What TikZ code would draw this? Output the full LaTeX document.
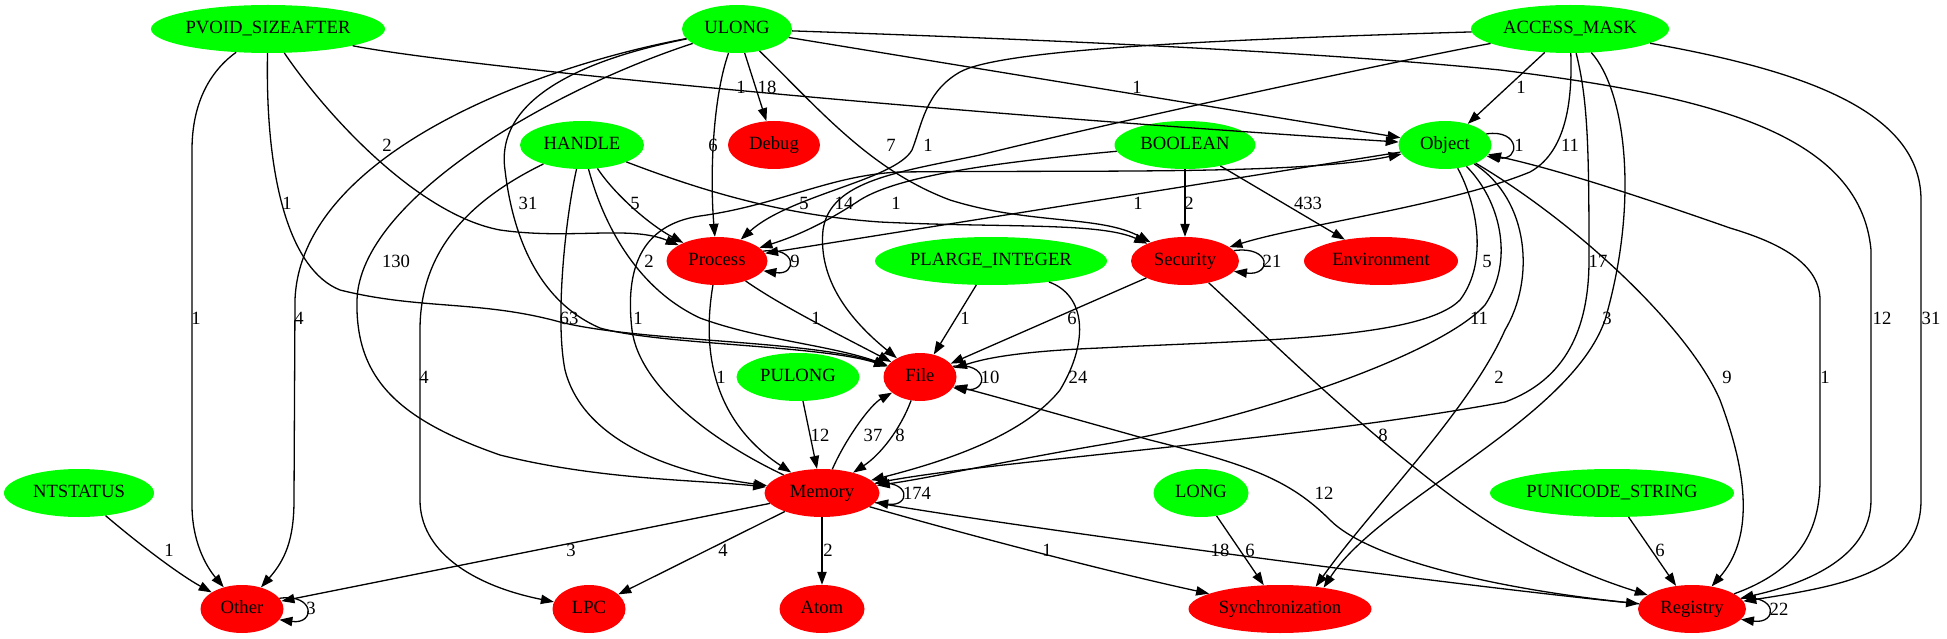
\documentclass[tikz,border=0pt]{standalone}
\usepackage{fontspec}
\setmainfont{Liberation Serif}
\usetikzlibrary{arrows.meta,shapes.geometric}
\definecolor{gvgreen}{RGB}{0,255,0}
\definecolor{gvred}{RGB}{255,0,0}
\newcommand\gvloop[3]{\draw[e] (#1.#2) .. controls +(#3,-5) and +(#3,5) .. (#1.-#2);}
\begin{document}
\begin{tikzpicture}[x=1pt,y=-1pt,
  txt/.style={font=\fontsize{18.67}{22}\selectfont},
  nd/.style={txt,ellipse,inner sep=0pt,minimum height=48pt,text height=12.5pt,text depth=4pt},
  gn/.style={nd,fill=gvgreen},
  rd/.style={nd,fill=gvred},
  e/.style={line width=1.3pt,-{Triangle[length=13pt,width=9.3pt]}},
  lab/.style={txt,inner sep=0pt}]
\useasboundingbox (0,0) rectangle (1947,639);
% nodes
\node[gn,minimum width=234pt] (pvoid) at (268,29) {PVOID\_SIZEAFTER};
\node[gn,minimum width=110pt] (ulong) at (737,29) {ULONG};
\node[gn,minimum width=198pt] (access) at (1570,29) {ACCESS\_MASK};
\node[gn,minimum width=124pt] (handle) at (582,145) {HANDLE};
\node[rd,minimum width=92pt] (debug) at (774,145) {Debug};
\node[gn,minimum width=141pt] (boolean) at (1185,145) {BOOLEAN};
\node[gn,minimum width=93pt] (object) at (1445,145) {Object};
\node[rd,minimum width=101pt] (process) at (717,261) {Process};
\node[gn,minimum width=232pt] (plarge) at (991,261) {PLARGE\_INTEGER};
\node[rd,minimum width=108pt] (security) at (1185,261) {Security};
\node[rd,minimum width=154pt] (environment) at (1381,261) {Environment};
\node[gn,minimum width=123pt] (pulong) at (798,377) {PULONG};
\node[rd,minimum width=73pt] (file) at (920,377) {File};
\node[gn,minimum width=150pt] (ntstatus) at (79,493) {NTSTATUS};
\node[rd,minimum width=115pt] (memory) at (822,493) {Memory};
\node[gn,minimum width=95pt] (long) at (1201,493) {LONG};
\node[gn,minimum width=244pt] (punicode) at (1612,493) {PUNICODE\_STRING};
\node[rd,minimum width=83pt] (other) at (242,609) {Other};
\node[rd,minimum width=73pt] (lpc) at (589,609) {LPC};
\node[rd,minimum width=85pt] (atom) at (822,609) {Atom};
\node[rd,minimum width=183pt] (sync) at (1280,609) {Synchronization};
\node[rd,minimum width=108pt] (registry) at (1692,609) {Registry};
% PVOID_SIZEAFTER
\draw[e] (pvoid) .. controls (205,75) and (192,110) .. (192,150) -- (192,505) .. controls (192,540) and (205,565) .. (other);
\draw[e] (pvoid) .. controls (265,180) and (290,270) .. (340,290) .. controls (420,310) and (480,300) .. (560,322) .. controls (640,342) and (810,340) .. (file);
\draw[e] (pvoid) .. controls (330,120) and (420,215) .. (500,230) .. controls (570,240) and (630,225) .. (process);
\draw[e] (pvoid) .. controls (450,65) and (900,110) .. (object);
% ULONG
\draw[e] (ulong) .. controls (520,70) and (300,160) .. (295,300) -- (294,500) .. controls (294,540) and (285,560) .. (other);
\draw[e] (ulong) .. controls (550,90) and (360,200) .. (357,300) .. controls (355,380) and (400,420) .. (500,455) .. controls (600,480) and (700,480) .. (memory);
\draw[e] (ulong) .. controls (580,60) and (495,100) .. (505,170) .. controls (512,230) and (535,300) .. (600,328) .. controls (660,345) and (820,345) .. (file);
\draw[e] (ulong) .. controls (712,100) and (710,180) .. (process);
\draw[e] (ulong) -- (debug);
\draw[e] (ulong) .. controls (820,110) and (870,170) .. (950,200) .. controls (1030,225) and (1100,215) .. (security);
\draw[e] (ulong) -- (object);
\draw[e] (ulong) .. controls (1000,38) and (1300,50) .. (1500,70) .. controls (1700,95) and (1860,130) .. (1871,250) -- (1871,500) .. controls (1871,560) and (1800,585) .. (registry);
% ACCESS_MASK
\draw[e] (access) -- (object);
\draw[e] (access) .. controls (1200,40) and (1000,50) .. (960,72) .. controls (925,92) and (922,125) .. (912,150) .. controls (895,180) and (790,195) .. (process);
\draw[e] (access) .. controls (1400,60) and (1100,125) .. (980,155) .. controls (900,172) and (830,180) .. (823,230) .. controls (818,280) and (850,320) .. (file);
\draw[e] (access) .. controls (1572,90) and (1570,150) .. (1530,172) .. controls (1450,205) and (1300,225) .. (security);
\draw[e] (access) .. controls (1588,100) and (1589,150) .. (1589,260) .. controls (1589,330) and (1565,380) .. (1505,402) .. controls (1300,440) and (1000,460) .. (memory);
\draw[e] (access) .. controls (1625,90) and (1640,200) .. (1605,320) .. controls (1570,420) and (1380,500) .. (sync.26);
\draw[e] (access) .. controls (1800,70) and (1921,110) .. (1921,200) -- (1921,500) .. controls (1921,570) and (1850,585) .. (registry);
% HANDLE
\draw[e] (handle) .. controls (470,200) and (420,250) .. (420,330) -- (420,500) .. controls (420,550) and (470,585) .. (lpc);
\draw[e] (handle) .. controls (565,220) and (555,320) .. (565,370) .. controls (580,430) and (650,470) .. (memory);
\draw[e] (handle) .. controls (605,230) and (640,290) .. (700,318) .. controls (760,340) and (830,345) .. (file);
\draw[e] (handle) .. controls (615,195) and (650,225) .. (process);
\draw[e] (handle) .. controls (700,190) and (780,215) .. (880,222) .. controls (1000,228) and (1100,222) .. (security);
% BOOLEAN
\draw[e] (boolean) .. controls (1000,162) and (900,175) .. (860,200) .. controls (830,220) and (800,235) .. (process);
\draw[e] (boolean) -- (security);
\draw[e] (boolean) -- (environment);
% Object
\gvloop{object}{15}{34}
\draw[e] (object) -- (process);
\draw[e] (object) .. controls (1475,200) and (1490,260) .. (1460,300) .. controls (1420,340) and (1250,340) .. (1100,348) .. controls (1000,352) and (975,362) .. (file);
\draw[e] (object) .. controls (1500,200) and (1515,260) .. (1485,305) .. controls (1440,355) and (1250,420) .. (1100,445) .. controls (1000,462) and (930,478) .. (memory);
\draw[e] (object) .. controls (1530,200) and (1535,280) .. (1505,330) .. controls (1470,410) and (1370,510) .. (sync.32);
\draw[e] (object) .. controls (1580,225) and (1690,330) .. (1720,400) .. controls (1750,480) and (1752,540) .. (registry);
\draw[e] (memory) .. controls (720,445) and (640,390) .. (632,330) .. controls (625,270) and (640,225) .. (700,216) .. controls (780,205) and (830,175) .. (900,172) .. controls (1100,170) and (1300,175) .. (object);
\draw[e] (registry) .. controls (1800,570) and (1820,530) .. (1820,480) -- (1820,300) .. controls (1820,260) and (1770,240) .. (1730,228) .. controls (1650,200) and (1560,170) .. (object);
% Process
\gvloop{process}{12}{34}
\draw[e] (process) .. controls (780,305) and (830,330) .. (file);
\draw[e] (process) .. controls (702,350) and (712,420) .. (memory);
% PLARGE_INTEGER
\draw[e] (plarge) -- (file);
\draw[e] (plarge) .. controls (1085,295) and (1090,340) .. (1060,390) .. controls (1020,440) and (930,465) .. (memory);
% Security
\gvloop{security}{12}{38}
\draw[e] (security) -- (file);
\draw[e] (security) .. controls (1260,330) and (1350,420) .. (1450,495) .. controls (1530,555) and (1600,580) .. (registry);
% File, PULONG
\draw[e] (pulong) -- (memory);
\gvloop{file}{18}{36}
\draw[e] (file) .. controls (900,430) and (880,455) .. (memory);
\draw[e] (memory) .. controls (845,440) and (870,405) .. (file);
\draw[e] (registry) .. controls (1500,590) and (1370,560) .. (1330,520) .. controls (1290,480) and (1250,465) .. (1150,440) .. controls (1050,412) and (990,395) .. (file);
% bottom
\draw[e] (ntstatus) .. controls (140,545) and (180,575) .. (other);
\gvloop{memory}{10}{36}
\draw[e] (memory) -- (other);
\draw[e] (memory) -- (lpc);
\draw[e] (memory) -- (atom);
\draw[e] (memory) .. controls (950,530) and (1100,570) .. (sync);
\draw[e] (memory) .. controls (1000,525) and (1450,585) .. (registry);
\draw[e] (long) -- (sync);
\draw[e] (punicode) -- (registry);
\gvloop{other}{16}{36}
\gvloop{registry}{12}{37}
% labels
\node[lab] (l01) at (196,318) {1};
\node[lab] (l02) at (287,203) {1};
\node[lab] (l03) at (387,145) {2};
\node[lab] (l04) at (741,87) {1};
\node[lab] (l05) at (299,318) {4};
\node[lab] (l06) at (396,261) {130};
\node[lab] (l07) at (528,203) {31};
\node[lab] (l08) at (713,145) {6};
\node[lab] (l09) at (767,87) {18};
\node[lab] (l10) at (891,145) {7};
\node[lab] (l11) at (1137,87) {1};
\node[lab] (l12) at (1882,318) {12};
\node[lab] (l13) at (1521,87) {1};
\node[lab] (l14) at (928,145) {1};
\node[lab] (l15) at (844,203) {14};
\node[lab] (l16) at (1570,145) {11};
\node[lab] (l17) at (1598,261) {17};
\node[lab] (l18) at (1607,318) {3};
\node[lab] (l19) at (1931,318) {31};
\node[lab] (l20) at (424,377) {4};
\node[lab] (l21) at (569,318) {63};
\node[lab] (l22) at (649,261) {2};
\node[lab] (l23) at (635,203) {5};
\node[lab] (l24) at (804,203) {5};
\node[lab] (l25) at (896,203) {1};
\node[lab] (l26) at (1189,203) {2};
\node[lab] (l27) at (1308,203) {433};
\node[lab] (l28) at (1519,145) {1};
\node[lab] (l29) at (1138,203) {1};
\node[lab] (l30) at (1487,261) {5};
\node[lab] (l31) at (1479,318) {11};
\node[lab] (l32) at (1499,377) {2};
\node[lab] (l33) at (1727,377) {9};
\node[lab] (l34) at (638,318) {1};
\node[lab] (l35) at (1825,377) {1};
\node[lab] (l36) at (795,261) {9};
\node[lab] (l37) at (816,318) {1};
\node[lab] (l38) at (721,377) {1};
\node[lab] (l39) at (965,318) {1};
\node[lab] (l40) at (1078,377) {24};
\node[lab] (l41) at (1272,261) {21};
\node[lab] (l42) at (1072,318) {6};
\node[lab] (l43) at (1383,435) {8};
\node[lab] (l44) at (820,435) {12};
\node[lab] (l45) at (990,377) {10};
\node[lab] (l46) at (900,435) {8};
\node[lab] (l47) at (873,435) {37};
\node[lab] (l48) at (1324,493) {12};
\node[lab] (l49) at (169,550) {1};
\node[lab] (l50) at (917,493) {174};
\node[lab] (l51) at (571,550) {3};
\node[lab] (l52) at (723,550) {4};
\node[lab] (l53) at (828,550) {2};
\node[lab] (l54) at (1047,550) {1};
\node[lab] (l55) at (1220,550) {18};
\node[lab] (l56) at (1250,550) {6};
\node[lab] (l57) at (1660,550) {6};
\node[lab] (l58) at (311,608) {3};
\node[lab] (l59) at (1779,609) {22};
\end{tikzpicture}
\end{document}
